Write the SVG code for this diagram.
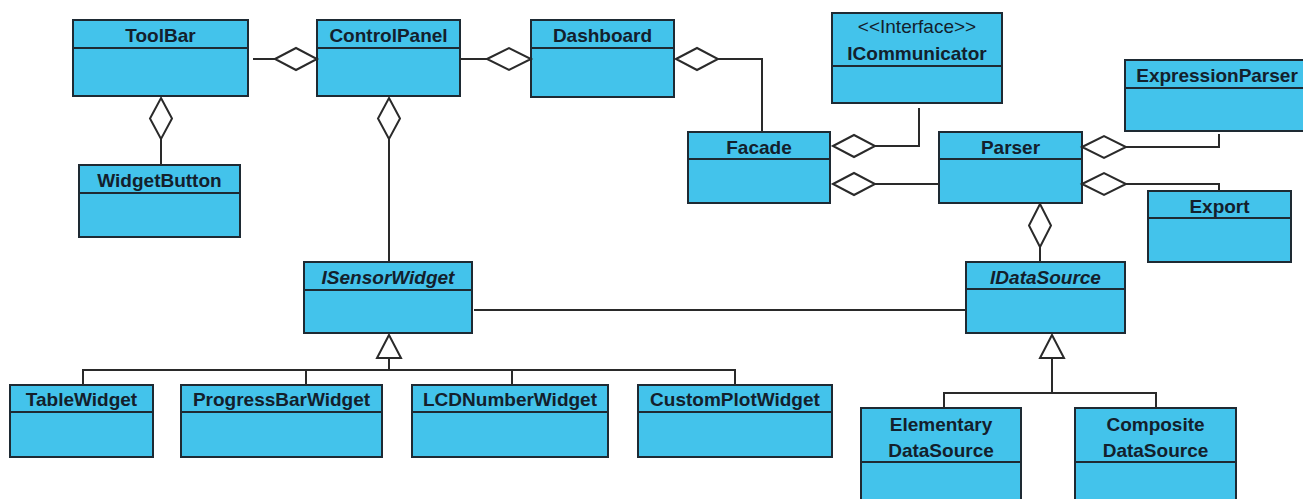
<svg xmlns="http://www.w3.org/2000/svg" width="1303" height="499" viewBox="0 0 1303 499">
<style>
.box{fill:#43c3eb;stroke:#1e2a33;stroke-width:2}
.hd{stroke:#1e2a33;stroke-width:2}
.t{font-family:"Liberation Sans",Arial,sans-serif;font-weight:bold;font-size:19px;fill:#13202c;text-anchor:middle}
.it{font-style:italic}
.st{font-weight:normal}
.ln{fill:none;stroke:#2a2a2a;stroke-width:2}
.dm{fill:#ffffff;stroke:#2a2a2a;stroke-width:2}
</style>
<rect width="1303" height="499" fill="#ffffff"/>
<g id="ToolBar"><rect class="box" x="73" y="20" width="175" height="76"/><line class="hd" x1="73" y1="48" x2="248" y2="48"/><text class="t" x="160.5" y="42">ToolBar</text></g>
<g id="ControlPanel"><rect class="box" x="317" y="20" width="143" height="76"/><line class="hd" x1="317" y1="48" x2="460" y2="48"/><text class="t" x="388.5" y="42">ControlPanel</text></g>
<g id="Dashboard"><rect class="box" x="531" y="20" width="143" height="77"/><line class="hd" x1="531" y1="48" x2="674" y2="48"/><text class="t" x="602.5" y="42">Dashboard</text></g>
<g id="ICommunicator"><rect class="box" x="832" y="13" width="170" height="90"/><line class="hd" x1="832" y1="66" x2="1002" y2="66"/><text class="t st" x="917" y="33">&lt;&lt;Interface&gt;&gt;</text><text class="t" x="917" y="60">ICommunicator</text></g>
<g id="ExpressionParser"><rect class="box" x="1125" y="60" width="185" height="71"/><line class="hd" x1="1125" y1="88" x2="1310" y2="88"/><text class="t" x="1217" y="82">ExpressionParser</text></g>
<g id="WidgetButton"><rect class="box" x="79" y="165" width="161" height="72"/><line class="hd" x1="79" y1="193" x2="240" y2="193"/><text class="t" x="159.5" y="187">WidgetButton</text></g>
<g id="Facade"><rect class="box" x="688" y="132" width="142" height="71"/><line class="hd" x1="688" y1="159" x2="830" y2="159"/><text class="t" x="759" y="154">Facade</text></g>
<g id="Parser"><rect class="box" x="939" y="132" width="143" height="71"/><line class="hd" x1="939" y1="159" x2="1082" y2="159"/><text class="t" x="1010.5" y="154">Parser</text></g>
<g id="Export"><rect class="box" x="1148" y="191" width="143" height="71"/><line class="hd" x1="1148" y1="218" x2="1291" y2="218"/><text class="t" x="1219.5" y="213">Export</text></g>
<g id="ISensorWidget"><rect class="box" x="304" y="262" width="168" height="71"/><line class="hd" x1="304" y1="290" x2="472" y2="290"/><text class="t it" x="388" y="284">ISensorWidget</text></g>
<g id="IDataSource"><rect class="box" x="966" y="262" width="159" height="71"/><line class="hd" x1="966" y1="289" x2="1125" y2="289"/><text class="t it" x="1045.5" y="284">IDataSource</text></g>
<g id="TableWidget"><rect class="box" x="10" y="385" width="143" height="72"/><line class="hd" x1="10" y1="412" x2="153" y2="412"/><text class="t" x="81.5" y="406">TableWidget</text></g>
<g id="ProgressBarWidget"><rect class="box" x="181" y="385" width="201" height="72"/><line class="hd" x1="181" y1="412" x2="382" y2="412"/><text class="t" x="281.5" y="406">ProgressBarWidget</text></g>
<g id="LCDNumberWidget"><rect class="box" x="412" y="385" width="196" height="72"/><line class="hd" x1="412" y1="412" x2="608" y2="412"/><text class="t" x="510" y="406">LCDNumberWidget</text></g>
<g id="CustomPlotWidget"><rect class="box" x="638" y="385" width="194" height="72"/><line class="hd" x1="638" y1="412" x2="832" y2="412"/><text class="t" x="735" y="406">CustomPlotWidget</text></g>
<g id="ElementaryDataSource"><rect class="box" x="861" y="408" width="160" height="102"/><line class="hd" x1="861" y1="462" x2="1021" y2="462"/><text class="t" x="941" y="431">Elementary</text><text class="t" x="941" y="457">DataSource</text></g>
<g id="CompositeDataSource"><rect class="box" x="1075" y="408" width="161" height="102"/><line class="hd" x1="1075" y1="462" x2="1236" y2="462"/><text class="t" x="1155.5" y="431">Composite</text><text class="t" x="1155.5" y="457">DataSource</text></g>
<g id="connectors">
<polyline class="ln" points="253,59 275,59"/><polygon class="dm" points="275,59 296,48 317,59 296,70"/>
<polyline class="ln" points="161,139 161,165"/><polygon class="dm" points="161,98 172,118.5 161,139 150,118.5"/>
<polyline class="ln" points="389,139 389,262"/><polygon class="dm" points="389,98 400,118.5 389,139 378,118.5"/>
<polyline class="ln" points="460,59 487,59"/><polygon class="dm" points="487,59 509,48 531,59 509,70"/>
<polyline class="ln" points="718,59 762,59 762,132"/><polygon class="dm" points="676,59 697,48 718,59 697,70"/>
<polyline class="ln" points="875,146 919,146 919,108"/><polygon class="dm" points="833,146 854,135 875,146 854,157"/>
<polyline class="ln" points="875,184 939,184"/><polygon class="dm" points="833,184 854,173 875,184 854,195"/>
<polyline class="ln" points="1126,147 1219,147 1219,134"/><polygon class="dm" points="1082,147 1104,136 1126,147 1104,158"/>
<polyline class="ln" points="1126,184 1219,184 1219,191"/><polygon class="dm" points="1082,184 1104,173 1126,184 1104,195"/>
<polyline class="ln" points="1040,247 1040,262"/><polygon class="dm" points="1040,204 1051,225.5 1040,247 1029,225.5"/>
<polyline class="ln" points="474,310 966,310"/>
<polyline class="ln" points="389,358 389,370"/><polyline class="ln" points="83,385 83,370 735,370 735,385"/><polyline class="ln" points="306,370 306,385"/><polyline class="ln" points="512,370 512,385"/>
<polygon class="dm" points="389,335 401,358 377,358"/>
<polyline class="ln" points="1052,358 1052,393"/><polyline class="ln" points="944,408 944,393 1156,393 1156,408"/>
<polygon class="dm" points="1052,335 1064,358 1040,358"/>
</g>
</svg>
